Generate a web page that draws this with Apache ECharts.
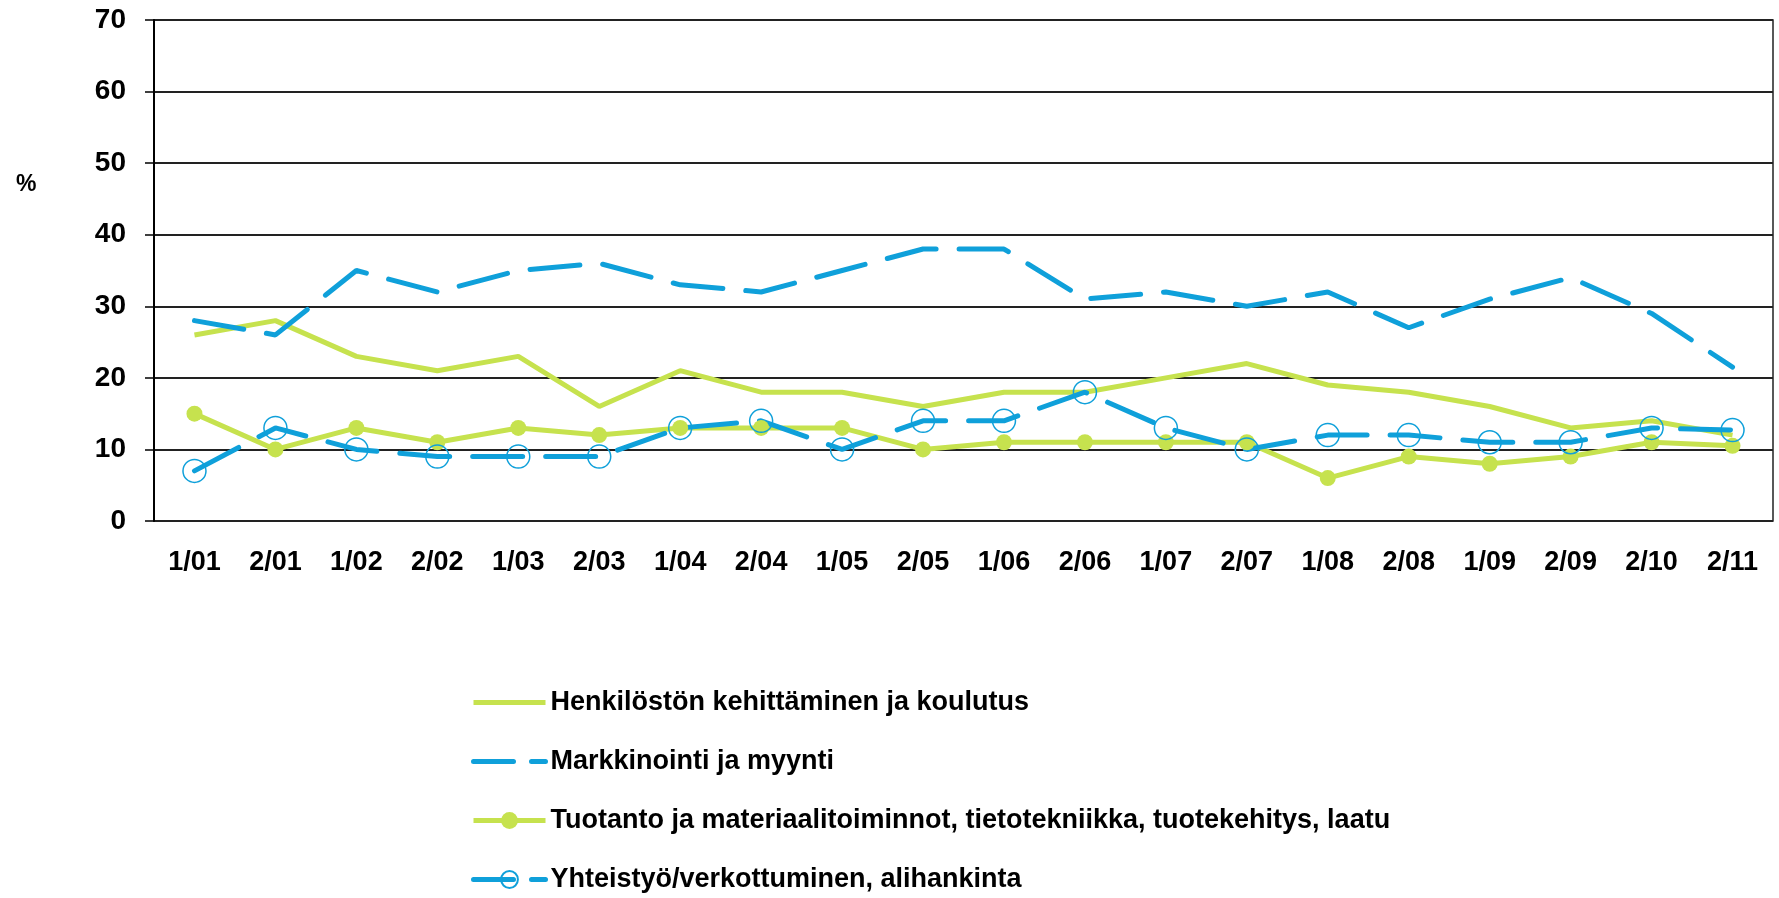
<!DOCTYPE html>
<html>
<head>
    <meta charset="utf-8">
    <title>Kehittämiskohteet</title>
    <script src="https://cdn.jsdelivr.net/npm/echarts@6/dist/echarts.min.js"></script>
    <style>
        html, body { margin: 0; padding: 0; background: #fff; }
        #main { width: 1779px; height: 898px; }
    </style>
</head>
<body>
<div id="main"></div>
<script type="text/javascript">
    // kausien nimet (x-akseli)
    var kaudet = ['1/01', '2/01', '1/02', '2/02', '1/03', '2/03', '1/04', '2/04', '1/05', '2/05',
        '1/06', '2/06', '1/07', '2/07', '1/08', '2/08', '1/09', '2/09', '2/10', '2/11'];

    // sarjat, %
    var henkilosto = [26, 28, 23, 21, 23, 16, 21, 18, 18, 16, 18, 18, 20, 22, 19, 18, 16, 13, 14, 12];
    var markkinointi = [28, 26, 35, 32, 35, 36, 33, 32, 35, 38, 38, 31, 32, 30, 32, 27, 31, 34, 29, 21.5];
    var tuotanto = [15, 10, 13, 11, 13, 12, 13, 13, 13, 10, 11, 11, 11, 11, 6, 9, 8, 9, 11, 10.5];
    var yhteistyo = [7, 13, 10, 9, 9, 9, 13, 14, 10, 14, 14, 18, 13, 10, 12, 12, 11, 11, 13, 12.7];

    var nimet = [
        'Henkilöstön kehittäminen ja koulutus',
        'Markkinointi ja myynti',
        'Tuotanto ja materiaalitoiminnot, tietotekniikka, tuotekehitys, laatu',
        'Yhteistyö/verkottuminen, alihankinta'
    ];

    var vihrea = '#C6E24E';
    var sininen = '#0FA0DA';
    var katko = [50, 23];
    var fontti = '"Liberation Sans", Arial, sans-serif';

    var myChart = echarts.init(document.getElementById('main'));
    var option = {
        animation: false,
        backgroundColor: '#fff',
        textStyle: { fontFamily: fontti },
        grid: {
            left: 154,
            right: 6,
            top: 20,
            bottom: 377,
            show: true,
            borderColor: '#222',
            borderWidth: 1.5
        },
        graphic: [{
            type: 'text',
            left: 16,
            top: 173,
            style: { text: '%', font: 'bold 23px ' + fontti, fill: '#000' }
        }],
        legend: {
            orient: 'vertical',
            left: 466,
            top: 684,
            height: 240,
            itemWidth: 72,
            itemHeight: 21,
            itemGap: 32,
            textStyle: { fontFamily: fontti, fontWeight: 'bold', fontSize: 27, color: '#000' },
            data: [
                { name: nimet[0], itemStyle: { opacity: 0 }, lineStyle: { color: vihrea, width: 5 } },
                { name: nimet[1], itemStyle: { opacity: 0 }, lineStyle: { color: sininen, width: 5, type: [40, 18] } },
                { name: nimet[2], lineStyle: { color: vihrea, width: 5 } },
                { name: nimet[3], lineStyle: { color: sininen, width: 5, type: [40, 18] } }
            ]
        },
        xAxis: {
            type: 'category',
            data: kaudet,
            boundaryGap: true,
            axisLine: { show: false },
            axisTick: { show: false },
            axisLabel: { margin: 28, fontSize: 27, fontWeight: 'bold', color: '#000', fontFamily: fontti },
            splitLine: { show: false }
        },
        yAxis: {
            type: 'value',
            min: 0,
            max: 70,
            interval: 10,
            axisLine: { show: true, lineStyle: { color: '#000', width: 2 } },
            axisTick: { show: true, length: 9, lineStyle: { color: '#000', width: 1.5 } },
            axisLabel: { margin: 28, fontSize: 28, fontWeight: 'bold', color: '#000', fontFamily: fontti },
            splitLine: { show: true, lineStyle: { color: '#222', width: 1.8 } }
        },
        series: [
            {
                name: nimet[0],
                type: 'line',
                data: henkilosto,
                symbol: 'none',
                lineStyle: { color: vihrea, width: 5 },
                itemStyle: { color: vihrea }
            },
            {
                name: nimet[1],
                type: 'line',
                data: markkinointi,
                symbol: 'none',
                lineStyle: { color: sininen, width: 5, type: katko, cap: 'round' },
                itemStyle: { color: sininen }
            },
            {
                name: nimet[2],
                type: 'line',
                data: tuotanto,
                symbol: 'circle',
                symbolSize: 16,
                lineStyle: { color: vihrea, width: 5 },
                itemStyle: { color: vihrea }
            },
            {
                name: nimet[3],
                type: 'line',
                data: yhteistyo,
                symbol: 'circle',
                symbolSize: 23,
                lineStyle: { color: sininen, width: 5, type: katko, cap: 'round' },
                itemStyle: { color: 'rgba(255,255,255,0)', borderColor: sininen, borderWidth: 1.5 }
            }
        ]
    };
    myChart.setOption(option);
</script>
</body>
</html>
